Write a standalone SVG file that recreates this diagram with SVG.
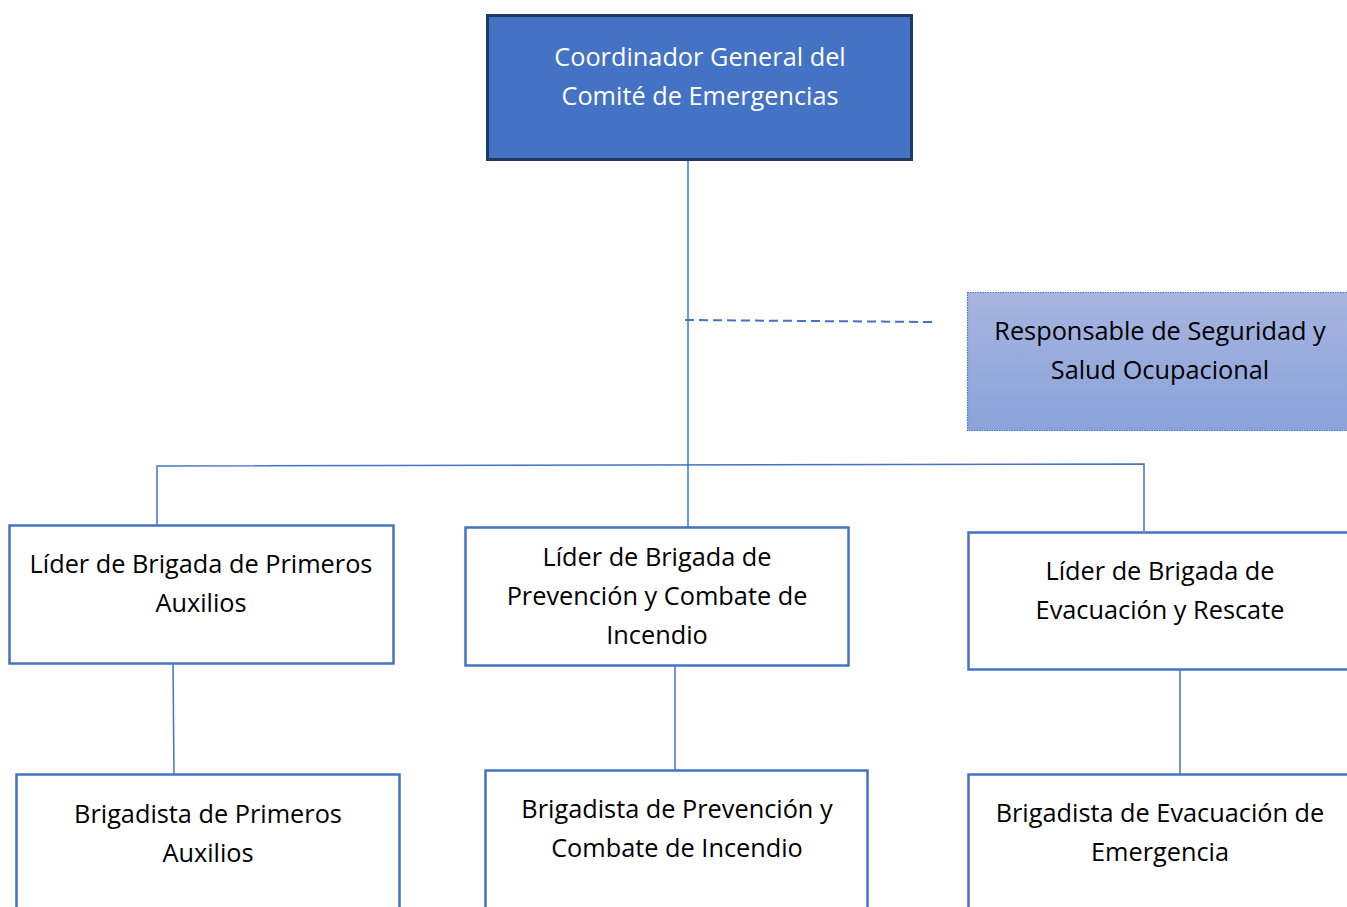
<svg xmlns="http://www.w3.org/2000/svg" width="1347" height="907" viewBox="0 0 1347 907">
<style>
text{font-family:"Open Sans","Noto Sans","Liberation Sans",sans-serif;font-size:25.3px;text-anchor:middle;fill:#000}
.w{fill:#fff}
.box{fill:#fff;stroke:#4472C4;stroke-width:2.5}
.ln{fill:none;stroke:#4472C4;stroke-width:1.5}
</style>
<defs>
<linearGradient id="g" x1="0" y1="0" x2="0" y2="1">
<stop offset="0" stop-color="#A7B5E0"/>
<stop offset="1" stop-color="#8AA2DA"/>
</linearGradient>
</defs>
<g id="connectors">
<line class="ln" x1="688" y1="160" x2="688" y2="527"/>
<line class="ln" x1="685" y1="320" x2="932" y2="322" stroke-dasharray="9,5" style="stroke-width:2"/>
<polyline class="ln" points="157,525 157,466 1144,464 1144,531"/>
<line class="ln" x1="173" y1="664" x2="174" y2="774"/>
<line class="ln" x1="675" y1="666" x2="675" y2="770"/>
<line class="ln" x1="1180" y1="670" x2="1180" y2="774"/>
</g>
<g id="coordinador">
<rect x="487.5" y="15.5" width="424" height="144" fill="#4472C4" stroke="#1F3864" stroke-width="3"/>
<text class="w" x="700" y="66">Coordinador General del</text>
<text class="w" x="700" y="105">Comité de Emergencias</text>
</g>
<g id="responsable">
<rect x="967.5" y="292.5" width="385" height="138" fill="url(#g)" stroke="#4472C4" stroke-width="1.2" stroke-dasharray="1.5,1"/>
<text x="1160" y="340">Responsable de Seguridad y</text>
<text x="1160" y="379">Salud Ocupacional</text>
</g>
<g id="lider-primeros-auxilios">
<rect class="box" x="9.5" y="525.5" width="384" height="138"/>
<text x="201" y="573">Líder de Brigada de Primeros</text>
<text x="201" y="612">Auxilios</text>
</g>
<g id="lider-prevencion">
<rect class="box" x="465.5" y="527.5" width="383" height="138"/>
<text x="657" y="566">Líder de Brigada de</text>
<text x="657" y="605">Prevención y Combate de</text>
<text x="657" y="644">Incendio</text>
</g>
<g id="lider-evacuacion">
<rect class="box" x="968.5" y="532.5" width="385" height="137"/>
<text x="1160" y="580">Líder de Brigada de</text>
<text x="1160" y="619">Evacuación y Rescate</text>
</g>
<g id="brigadista-primeros-auxilios">
<rect class="box" x="16.5" y="774.5" width="383" height="140"/>
<text x="208" y="823">Brigadista de Primeros</text>
<text x="208" y="862">Auxilios</text>
</g>
<g id="brigadista-prevencion">
<rect class="box" x="485.5" y="770.5" width="382" height="144"/>
<text x="677" y="818">Brigadista de Prevención y</text>
<text x="677" y="857">Combate de Incendio</text>
</g>
<g id="brigadista-evacuacion">
<rect class="box" x="968.5" y="774.5" width="385" height="140"/>
<text x="1160" y="822">Brigadista de Evacuación de</text>
<text x="1160" y="861">Emergencia</text>
</g>
</svg>
